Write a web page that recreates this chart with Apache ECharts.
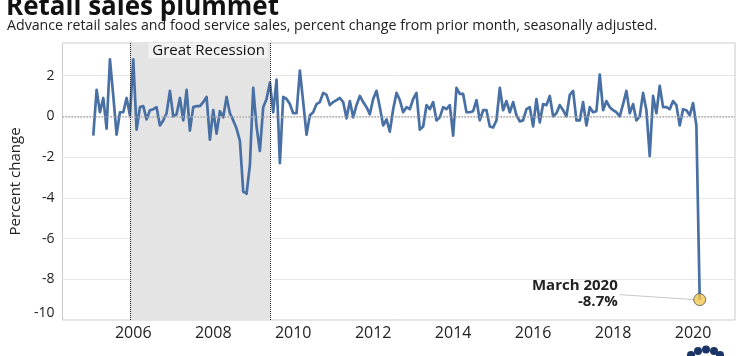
<!DOCTYPE html>
<html>
<head>
<meta charset="utf-8">
<script src="https://cdn.jsdelivr.net/npm/echarts@6/dist/echarts.min.js"></script>
<style>html,body{margin:0;padding:0;background:#fff}#c{width:740px;height:356px}</style>
</head>
<body>
<div id="c"></div>
<script>
// ---- Data ----
var startYear = 2005, startMonth = 1;   // first month of the series (Jan 2005)
var pctChange = [
 -0.95, 1.3, 0.2, 0.9, -0.6, 2.8, 1.0, -0.9, 0.2, 0.2, 0.9, 0.05,
 2.8, -0.65, 0.45, 0.5, -0.15, 0.3, 0.35, 0.45, -0.45, -0.2, 0.15, 1.25,
 0.0, 0.1, 0.9, -0.2, 1.3, -0.7, 0.45, 0.5, 0.5, 0.7, 0.95, -1.15,
 0.3, -0.85, 0.25, -0.05, 0.95, 0.15, -0.2, -0.6, -1.2, -3.7, -3.8, -2.4,
 1.4, -0.5, -1.7, 0.45, 0.85, 1.65, 0.2, 1.8, -2.3, 0.95, 0.85, 0.6,
 0.15, 0.15, 2.25, 0.7, -0.9, 0.05, 0.2, 0.6, 0.7, 1.15, 1.05, 0.55,
 0.7, 0.8, 0.9, 0.7, -0.1, 0.75, -0.05, 0.55, 1.0, 0.7, 0.45, 0.1,
 0.85, 1.25, 0.45, -0.45, -0.15, -0.75, 0.35, 1.15, 0.8, 0.2, 0.45, 0.35,
 0.85, 1.15, -0.65, -0.5, 0.55, 0.35, 0.7, -0.2, -0.05, 0.45, 0.35, 0.55,
 -0.95, 1.4, 1.1, 1.1, 0.2, 0.2, 0.25, 0.8, -0.2, 0.3, 0.3, -0.5,
 -0.55, -0.2, 1.4, 0.3, 0.75, 0.2, 0.7, 0.05, -0.25, -0.2, 0.35, 0.45,
 -0.5, 0.85, -0.3, 0.6, 0.55, 1.0, 0.0, 0.15, 0.55, 0.3, 0.0, 1.05,
 1.25, -0.2, -0.2, 0.7, -0.45, 0.45, 0.2, 0.25, 2.05, 0.3, 0.75, 0.45,
 0.3, 0.2, 0.0, 0.6, 1.25, 0.15, 0.6, -0.2, 0.0, 1.15, 0.3, -1.95,
 1.0, 0.15, 1.5, 0.45, 0.45, 0.35, 0.75, 0.55, -0.45, 0.35, 0.3, 0.05,
 0.65, -0.45, -9.0
];
var xTickLabels = [2006, 2008, 2010, 2012, 2014, 2016, 2018, 2020];
var yTicks = [-10, -8, -6, -4, -2, 0, 2];
var recession = { start: [2005, 12], end: [2009, 6], label: 'Great Recession' };
var callout = { title: 'March 2020', value: '-8.7%' };
var zeroLine = [0];

// ---- Build ----
function toYear(y, m) { return y + (m - 1) / 12; }
var seriesData = pctChange.map(function (v, i) {
  var mIdx = startMonth - 1 + i;
  return [toYear(startYear + Math.floor(mIdx / 12), (mIdx % 12) + 1), v];
});
var last = seriesData[seriesData.length - 1];
var recStart = toYear(recession.start[0], recession.start[1]);
var recEnd = toYear(recession.end[0], recession.end[1]);

var FONT = '"Open Sans", Lato, sans-serif';
var chart = echarts.init(document.getElementById('c'), null, { renderer: 'canvas' });
var option = {
  animation: false,
  backgroundColor: '#ffffff',
  grid: { left: 61, right: 5, top: 43, bottom: 36, show: true, borderColor: '#c8c8c8', borderWidth: 1 },
  xAxis: {
    type: 'value', min: 2004.228, max: 2021.049,
    axisLine: { show: false }, axisTick: { show: false }, splitLine: { show: false },
    axisLabel: { customValues: xTickLabels, formatter: function (v) { return String(Math.round(v)); },
      color: '#222', fontSize: 16, fontFamily: FONT, margin: 5 }
  },
  yAxis: {
    type: 'value', min: -10, max: 3.6, interval: 2,
    name: 'Percent change', nameLocation: 'middle', nameGap: 38, nameRotate: 90,
    nameTextStyle: { color: '#222', fontSize: 15, fontFamily: FONT },
    axisLine: { show: false }, axisTick: { show: false },
    splitLine: { lineStyle: { color: '#e6e6e6', width: 1 } },
    axisLabel: {
      color: '#222', fontSize: 14, fontFamily: FONT, margin: 8,
      formatter: function (v) {
        if (yTicks.indexOf(Math.round(v * 100) / 100) < 0) return '';
        if (v === -10) return '{up|-10}';
        return String(v);
      },
      rich: { up: { fontSize: 14, fontFamily: FONT, color: '#222', padding: [0, 0, 14, 0] } }
    }
  },
  series: [
    { type: 'line', data: [], z: 1, silent: true,
      markLine: { silent: true, symbol: 'none', label: { show: false },
        lineStyle: { type: 'dotted', color: '#a8a8a8', width: 1.5 },
        data: zeroLine.map(function (v) { return { yAxis: v }; }) } },
    { type: 'line', data: [], z: 2, silent: true,
      markArea: { silent: true, itemStyle: { color: '#e4e4e4' },
        label: { show: true, position: 'insideTopRight', distance: 0, offset: [-2, 0],
          color: '#111', fontSize: 15, fontFamily: FONT, backgroundColor: '#f2f2f2', padding: [0, 3, 0, 4] },
        data: [[{ xAxis: recStart, name: recession.label }, { xAxis: recEnd }]] },
      markLine: { silent: true, symbol: 'none', label: { show: false },
        lineStyle: { type: 'dotted', color: '#222', width: 1 },
        data: [{ xAxis: recStart }, { xAxis: recEnd }] } },
    { type: 'line', data: seriesData, z: 3, showSymbol: false, symbol: 'none',
      lineStyle: { color: '#4870a4', width: 2.7, join: 'round' } },
    { type: 'scatter', data: [last], z: 5, symbol: 'circle', symbolSize: 12,
      itemStyle: { color: '#f4c64f', borderColor: '#555', borderWidth: 1 } }
  ]
};
chart.setOption(option);

var p = chart.convertToPixel({ gridIndex: 0 }, last);
chart.setOption({
  graphic: [
    { type: 'text', style: { x: 6, y: 8, text: 'Retail sales plummet', font: 'bold 26px ' + FONT, fill: '#111', textVerticalAlign: 'middle' } },
    { type: 'text', style: { x: 7, y: 25.5, text: 'Advance retail sales and food service sales, percent change from prior month, seasonally adjusted.', font: '14.2px ' + FONT, fill: '#222', textVerticalAlign: 'middle' } },
    { type: 'line', z: 4, shape: { x1: p[0] - 80, y1: p[1] - 5, x2: p[0] - 5, y2: p[1] }, style: { stroke: '#c8c8c8', lineWidth: 1 } },
    { type: 'text', z: 6, style: { x: p[0] - 82, y: p[1] - 14, text: callout.title, font: 'bold 15px ' + FONT, fill: '#222', textAlign: 'right', textVerticalAlign: 'middle' } },
    { type: 'text', z: 6, style: { x: p[0] - 82, y: p[1] + 2, text: callout.value, font: 'bold 15px ' + FONT, fill: '#222', textAlign: 'right', textVerticalAlign: 'middle' } },
    { type: 'circle', shape: { cx: 691, cy: 355, r: 4 }, style: { fill: '#1b3566' } },
    { type: 'circle', shape: { cx: 698, cy: 351, r: 4 }, style: { fill: '#1b3566' } },
    { type: 'circle', shape: { cx: 706, cy: 349.5, r: 4 }, style: { fill: '#1b3566' } },
    { type: 'circle', shape: { cx: 714, cy: 351, r: 4 }, style: { fill: '#1b3566' } },
    { type: 'circle', shape: { cx: 720, cy: 355, r: 4 }, style: { fill: '#1b3566' } }
  ]
});
</script>
</body>
</html>
